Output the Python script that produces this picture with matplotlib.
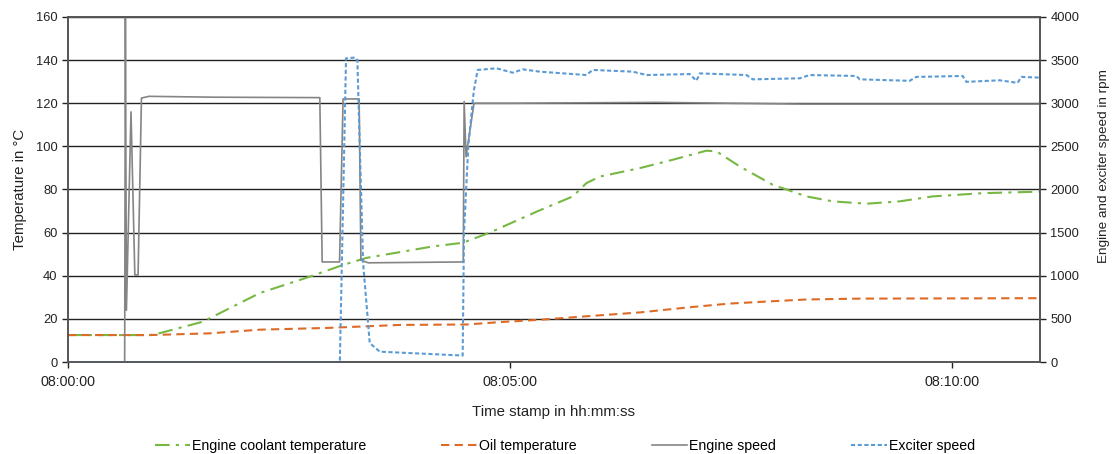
import matplotlib
matplotlib.use('Agg')
import matplotlib.pyplot as plt
from matplotlib.ticker import FuncFormatter, MultipleLocator

plt.rcParams['font.family'] = ['Liberation Sans', 'DejaVu Sans']

# seconds after 08:00:00
coolant_t = [0, 55.7, 62.4, 91.6, 130.3, 164.3, 186.7, 202.7, 247.7, 268.1, 286.4, 318.1,
             342.8, 352.1, 361.1, 388.2, 410.7, 433.5, 440.3, 456.1, 478.5, 501.4, 519.2,
             542.1, 564.7, 587.1, 621.0, 660]
coolant = [12.5, 12.5, 13.4, 18.7, 32.0, 39.6, 45.0, 48.3, 53.6, 55.3, 60.0, 69.7,
           76.8, 83.0, 86.0, 89.9, 93.8, 98.0, 97.7, 90.7, 82.2, 76.8, 74.5,
           73.4, 74.5, 76.8, 78.3, 79.0]

oil_t = [0, 55.7, 96.4, 130.3, 175.6, 225.3, 270.6, 293.2, 320.4, 352.0, 388.2, 422.2,
         449.3, 478.5, 501.4, 537.6, 660]
oil = [12.5, 12.5, 13.3, 15.0, 15.8, 17.2, 17.4, 18.5, 19.6, 21.2, 23.0, 25.4,
       27.1, 28.2, 29.0, 29.4, 29.6]

engine_t = [0, 38.5, 39.0, 39.7, 42.8, 45.4, 47.6, 49.9, 55, 100, 171, 172.6, 184.4,
            186.8, 197.7, 198.9, 204, 267.8, 268.4, 269.0, 270.3, 275.7, 300, 400,
            450, 500, 660]
engine = [0, 0, 4000, 600, 2900, 1010, 1010, 3060, 3080, 3070, 3065, 1160, 1160,
          3050, 3050, 1180, 1150, 1160, 1170, 3020, 2380, 3000, 3000, 3010,
          3000, 2990, 2990]

exciter_t = [0, 184.6, 188.8, 195.0, 196.5, 200.4, 204.9, 211.7, 268.0, 268.9, 271.8,
             275.6, 278.2, 291.0, 302.0, 308.8, 320.4, 352.0, 356.3, 383.5, 392.8,
             422.2, 426.7, 429.0, 460.7, 465.0, 496.8, 503.6, 535.3, 537.6, 571.5,
             576.0, 607.5, 610.0, 632.6, 644.8, 647.3, 660]
exciter = [0, 0, 3520, 3530, 3500, 1150, 220, 120, 75, 1500, 2500,
           3150, 3386, 3405, 3354, 3393, 3366, 3327, 3386, 3366, 3327,
           3338, 3260, 3346, 3327, 3277, 3289, 3327, 3316, 3277, 3260,
           3305, 3316, 3248, 3266, 3236, 3305, 3297]

fig = plt.figure(figsize=(11.16, 4.54), dpi=100)
ax = fig.add_axes([0.0609, 0.2026, 0.8710, 0.7600])
ax2 = ax.twinx()

l1, = ax.plot(coolant_t, coolant, color='#77b843', lw=1.5, dashes=(7, 3, 1.5, 3),
              label='Engine coolant temperature')
l2, = ax.plot(oil_t, oil, color='#dd6b26', lw=1.5, dashes=(4, 2.5),
              label='Oil temperature')
l3, = ax2.plot(engine_t, engine, color='#858585', lw=1.2, label='Engine speed')
l4, = ax2.plot(exciter_t, exciter, color='#5b9bd5', lw=1.5, dashes=(2, 1.2),
               label='Exciter speed')

ax.set_xlim(0, 660)
ax.set_ylim(0, 160)
ax2.set_ylim(0, 4000)
ax.yaxis.set_major_locator(MultipleLocator(20))
ax2.yaxis.set_major_locator(MultipleLocator(500))
ax.set_xticks([0, 300, 600])
ax.xaxis.set_major_formatter(FuncFormatter(
    lambda v, p: '08:%02d:%02d' % (int(v) // 60, int(v) % 60)))

ax.grid(axis='y', color='#222222', lw=1)
ax.set_axisbelow(True)
for a in (ax, ax2):
    for s in a.spines.values():
        s.set_color('#555555')
        s.set_linewidth(1.2)
    a.tick_params(labelsize=9.3, colors='#222222', length=4, width=1)
ax.tick_params(axis='x', labelsize=10.3, pad=5)

ax.set_ylabel('Temperature in °C', fontsize=10.8, color='#222222', labelpad=6)
ax2.set_ylabel('Engine and exciter speed in rpm', fontsize=9.7, color='#222222')
ax2.yaxis.set_label_coords(1.06, 0.567)
ax.set_xlabel('Time stamp in hh:mm:ss', fontsize=10.8, color='#222222', labelpad=12)

fig.legend(handles=[l1, l2, l3, l4], loc='lower center', bbox_to_anchor=(0.506, -0.025),
           ncol=4, frameon=False, fontsize=10.2, columnspacing=5.3, handlelength=2.5,
           handletextpad=0.15)

fig.savefig('out.png', dpi=100)
